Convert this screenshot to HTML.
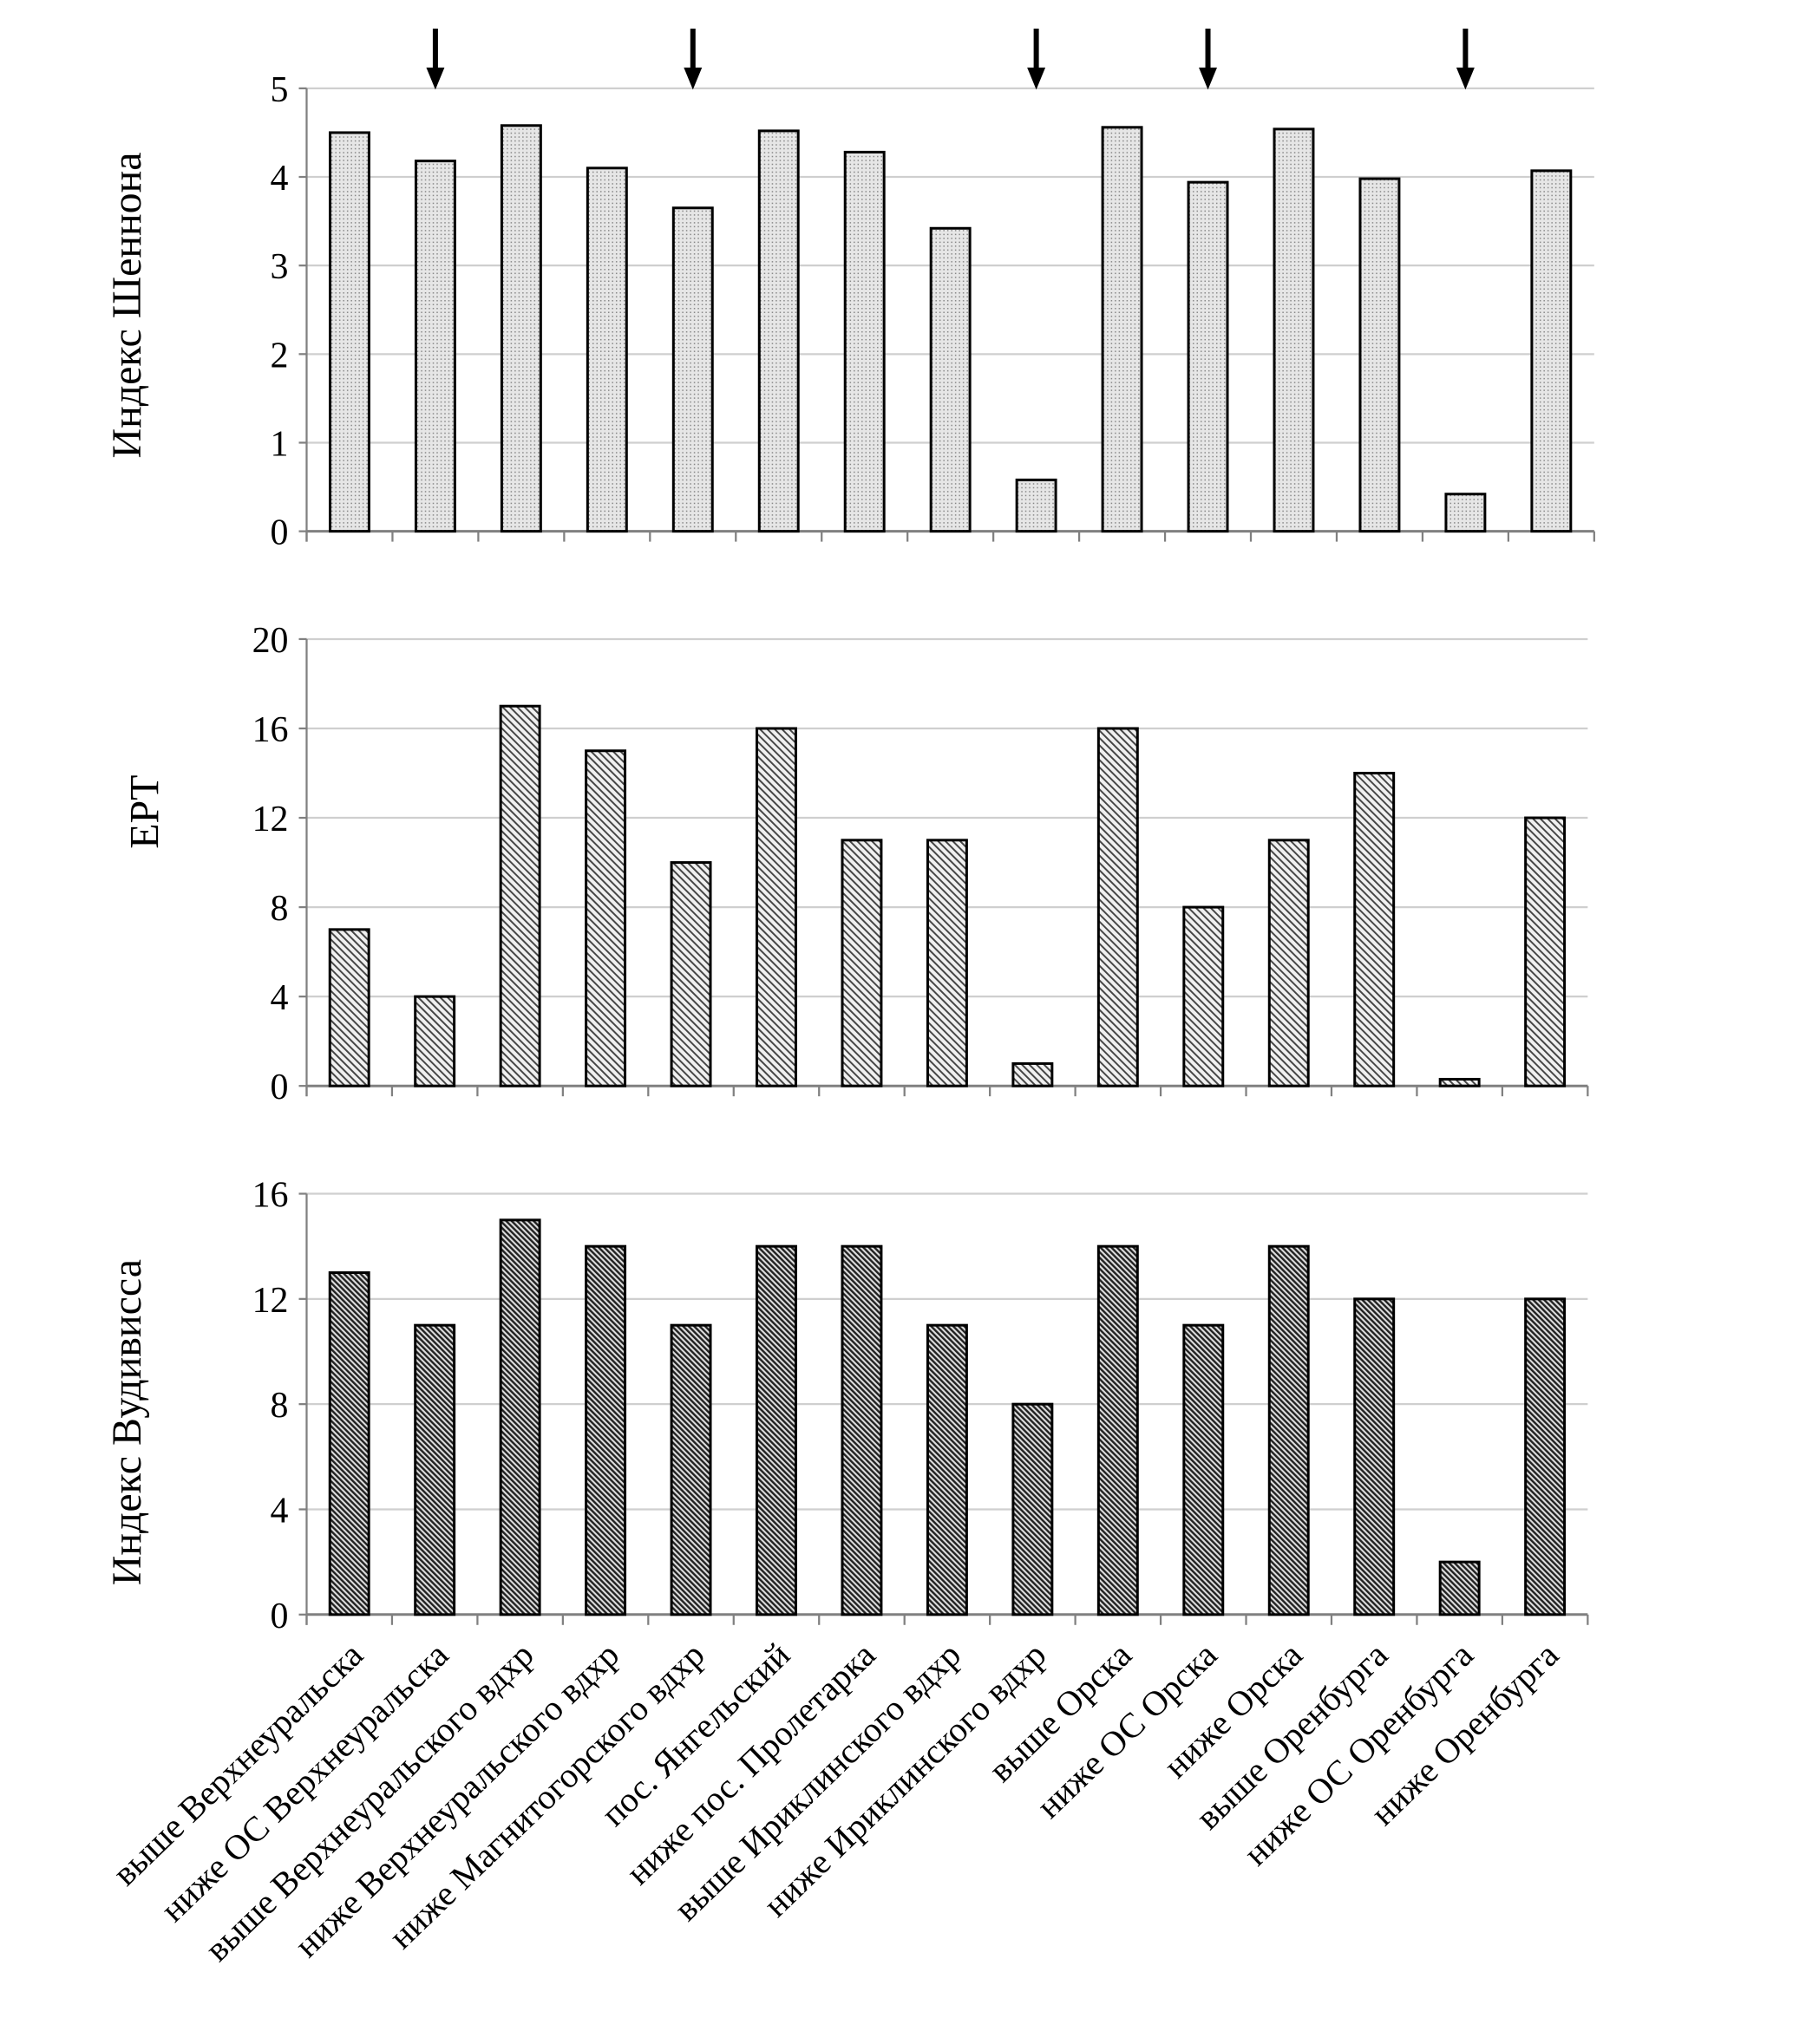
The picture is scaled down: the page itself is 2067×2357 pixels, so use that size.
<!DOCTYPE html>
<html><head><meta charset="utf-8"><style>
html,body{margin:0;padding:0;background:#fff;}
svg{display:block;}
text{font-family:"Liberation Serif",serif;fill:#000;}
</style></head><body>
<svg id="c" width="2067" height="2357" viewBox="0 0 1380 1573.6" xmlns="http://www.w3.org/2000/svg">
<defs>
<pattern id="p1" width="3" height="3" patternUnits="userSpaceOnUse"><rect width="3" height="3" fill="#e6e6e6"/><rect width="1" height="1" fill="#888"/></pattern>
<pattern id="p2" width="4" height="4" patternUnits="userSpaceOnUse" patternTransform="rotate(-45)"><rect width="4" height="4" fill="#f0f0f0"/><rect width="1.3" height="4" fill="#444"/></pattern>
<pattern id="p3" width="3" height="3" patternUnits="userSpaceOnUse" patternTransform="rotate(-45)"><rect width="3" height="3" fill="#ddd"/><rect width="1.6" height="3" fill="#222"/></pattern>
</defs>
</svg>
<script>
const categories = ["выше Верхнеуральска","ниже ОС Верхнеуральска","выше Верхнеуральского  вдхр","ниже Верхнеуральского  вдхр","ниже Магнитогорского вдхр","пос. Янгельский","ниже пос. Пролетарка","выше Ириклинского вдхр","ниже Ириклинского вдхр","выше Орска","ниже ОС Орска","ниже Орска","выше Оренбурга","ниже ОС Оренбурга","ниже Оренбурга"];
const shannonValues = [4.5,4.18,4.58,4.1,3.65,4.52,4.28,3.42,0.58,4.56,3.94,4.54,3.98,0.42,4.07];
const eptValues = [7,4,17,15,10,16,11,11,1,16,8,11,14,0.3,12];
const woodiwissValues = [13,11,15,14,11,14,14,11,8,14,11,14,12,2,12];
const shannonTicks = [0,1,2,3,4,5];
const eptTicks = [0,4,8,12,16,20];
const woodiwissTicks = [0,4,8,12,16];
const arrowIndices = [1,4,8,10,13];

const svg = document.getElementById('c');
const NS = 'http://www.w3.org/2000/svg';
function mk(tag, attrs, parent){const e=document.createElementNS(NS,tag);for(const k in attrs)e.setAttribute(k,attrs[k]);(parent||svg).appendChild(e);return e;}

const panels = [
 {name:'shannon', vals:shannonValues, ticks:shannonTicks, x0:236, x1:1227, yTop:68, yBot:409, fill:'url(#p1)', title:'Индекс Шеннона', ty:235},
 {name:'ept', vals:eptValues, ticks:eptTicks, x0:236, x1:1222, yTop:492, yBot:836, fill:'url(#p2)', title:'EPT', ty:625},
 {name:'woodiwiss', vals:woodiwissValues, ticks:woodiwissTicks, x0:236, x1:1222, yTop:919, yBot:1243, fill:'url(#p3)', title:'Индекс Вудивисса', ty:1095}
];

panels.forEach(p=>{
  const g = mk('g',{});
  
  
  const maxV = p.ticks[p.ticks.length-1];
  const y = v => p.yBot - (v/maxV)*(p.yBot-p.yTop);
  const n = categories.length;
  const bw = (p.x1-p.x0)/n;
  const x = i => p.x0 + bw*(i+0.5);
  p.ticks.forEach(t=>{
    const gl = mk('line',{x1:p.x0,x2:p.x1,y1:y(t),y2:y(t),stroke:t===0?'#808080':'#cfcfcf','stroke-width':t===0?2:1.5},g);
    
    
    mk('line',{x1:p.x0-6,x2:p.x0,y1:y(t),y2:y(t),stroke:'#808080','stroke-width':1.5},g);
    const tl = mk('text',{x:p.x0-14,y:y(t)+10,'text-anchor':'end','font-size':28},g);
    tl.textContent = t;
    
    
  });
  mk('line',{x1:p.x0,x2:p.x0,y1:p.yTop,y2:p.yBot+8,stroke:'#808080','stroke-width':1.5},g);
  for(let i=0;i<=n;i++){
    mk('line',{x1:p.x0+bw*i,x2:p.x0+bw*i,y1:p.yBot,y2:p.yBot+8,stroke:'#808080','stroke-width':1.5},g);
  }
  p.vals.forEach((v,i)=>{
    const r = mk('rect',{x:x(i)-15,y:y(v),width:30,height:p.yBot-y(v),fill:p.fill,stroke:'#000','stroke-width':2},g);
    
    
  });
  const t = mk('text',{x:0,y:0,'text-anchor':'middle','font-size':32,transform:`translate(${p.name==='ept'?122:108},${p.ty}) rotate(-90)`},g);
  t.textContent = p.title;
  
  
  if(p.name==='shannon'){
    arrowIndices.forEach(i=>{
      const a = mk('g',{},g);
      
      
      mk('line',{x1:x(i),x2:x(i),y1:22,y2:55,stroke:'#000','stroke-width':4},a);
      mk('polygon',{points:`${x(i)-7},52 ${x(i)+7},52 ${x(i)},69`,fill:'#000'},a);
    });
  }
  if(p.name==='woodiwiss'){
    categories.forEach((c,i)=>{
      const l = mk('text',{x:0,y:0,'text-anchor':'end','font-size':27,transform:`translate(${x(i)+12},${1276}) rotate(-44)`},g);
      l.textContent = c;
      
      
    });
  }
});
</script>
</body></html>
